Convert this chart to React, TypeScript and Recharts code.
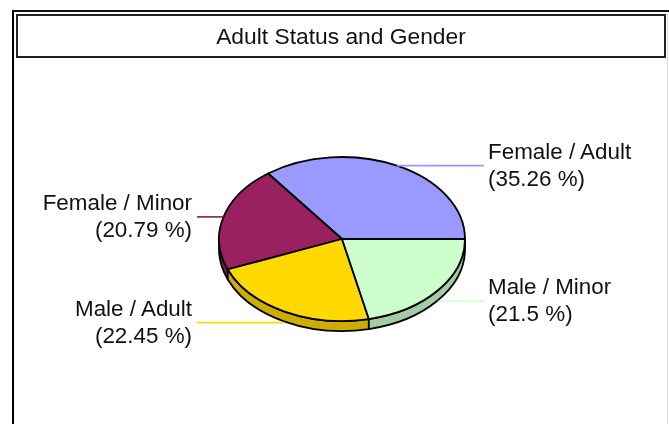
import React from 'react';
import { PieChart, Pie, Cell } from 'recharts';

const categories = ['Female / Adult', 'Female / Minor', 'Male / Adult', 'Male / Minor'];
const shares = [35.26, 20.79, 22.45, 21.5];
const faceColors = ['#9999FF', '#99215F', '#FFD900', '#CCFFCC'];
const sideColors = ['#7A7ACC', '#7A1A4C', '#CCAD00', '#A3CCA3'];
const lineColors = ['#9999FF', '#99215F', '#FFD900', '#CCFFCC'];

const data = categories.map((name, i) => ({ name, value: shares[i] }));

const W = 669;
const H = 424;
const CX = 342;
const CY = 239;
const RX = 123;
const RY = 82;
const DEPTH = 10;
const FONT = '"Liberation Sans", Arial, sans-serif';
const RAD = Math.PI / 180;

const px = (cx: number, a: number) => cx + RX * Math.cos(a * RAD);
const py = (cy: number, a: number) => cy - RY * Math.sin(a * RAD);

function FaceShape(props: any) {
  const { cx, cy, startAngle, endAngle, fill } = props;
  const large = Math.abs(endAngle - startAngle) > 180 ? 1 : 0;
  const d = `M${cx},${cy} L${px(cx, startAngle)},${py(cy, startAngle)} A${RX},${RY} 0 ${large} 0 ${px(cx, endAngle)},${py(cy, endAngle)} Z`;
  return <path d={d} fill={fill} stroke="#000" strokeWidth={1.8} strokeLinejoin="round" />;
}

function SideShape(props: any) {
  const { cx, cy, startAngle, endAngle, fill } = props;
  const a = Math.max(startAngle, 180);
  const b = Math.min(endAngle, 360);
  if (b <= a) return <g />;
  const d = `M${px(cx, a)},${py(cy, a)} A${RX},${RY} 0 0 0 ${px(cx, b)},${py(cy, b)} L${px(cx, b)},${py(cy, b) + DEPTH} A${RX},${RY} 0 0 1 ${px(cx, a)},${py(cy, a) + DEPTH} Z`;
  return <path d={d} fill={fill} stroke="#000" strokeWidth={1.8} strokeLinejoin="round" />;
}

function LeaderLabel(props: any) {
  const { cx, cy, midAngle, index, name, value } = props;
  const cos = Math.cos(midAngle * RAD);
  const sin = Math.sin(midAngle * RAD);
  const right = cos >= 0;
  const x0 = px(cx, midAngle);
  const y0 = py(cy, midAngle) + (sin < 0 ? DEPTH + 1 : 0);
  const x1 = right ? 484 : 197;
  const tx = right ? 488 : 192;
  const anchor = right ? 'start' : 'end';
  const common = { x: tx, textAnchor: anchor, fontFamily: FONT, fontSize: 22.4, fill: '#111' } as const;
  return (
    <g>
      <line x1={x0} y1={y0} x2={x1} y2={y0} stroke={lineColors[index]} strokeWidth={1.7} />
      <text {...common} y={y0 - 7}>{name}</text>
      <text {...common} y={y0 + 20}>{`(${value} %)`}</text>
    </g>
  );
}

export default function App() {
  return (
    <div style={{ position: 'absolute', left: 0, top: 0, width: W, height: H, background: '#fff', overflow: 'hidden', filter: 'blur(0.45px)' }}>
      <div style={{ position: 'absolute', left: 12, top: 10, width: 680, height: 440, borderLeft: '2px solid #000', borderTop: '2px solid #111', boxSizing: 'border-box' }} />
      <div
        style={{
          position: 'absolute', left: 16, top: 14, width: 650, height: 44, boxSizing: 'border-box',
          border: '2px solid #222', textAlign: 'center', fontFamily: FONT, fontSize: 22.8, lineHeight: '41px', color: '#111',
        }}
      >
        Adult Status and Gender
      </div>
      <div style={{ position: 'absolute', left: 667, top: 14, width: 1, height: 410, background: '#ddd' }} />
      <div style={{ position: 'absolute', left: 0, top: 0 }}>
        <PieChart width={W} height={H} margin={{ top: 0, right: 0, bottom: 0, left: 0 }}>
          <Pie
            data={data}
            dataKey="value"
            nameKey="name"
            cx={CX}
            cy={CY}
            outerRadius={RX}
            startAngle={0}
            endAngle={360}
            paddingAngle={0}
            isAnimationActive={false}
            shape={SideShape}
            label={false}
            labelLine={false}
          >
            {data.map((d, i) => <Cell key={d.name} fill={sideColors[i]} />)}
          </Pie>
          <Pie
            data={data}
            dataKey="value"
            nameKey="name"
            cx={CX}
            cy={CY}
            outerRadius={RX}
            startAngle={0}
            endAngle={360}
            paddingAngle={0}
            isAnimationActive={false}
            shape={FaceShape}
            label={LeaderLabel}
            labelLine={false}
          >
            {data.map((d, i) => <Cell key={d.name} fill={faceColors[i]} />)}
          </Pie>
        </PieChart>
      </div>
    </div>
  );
}
